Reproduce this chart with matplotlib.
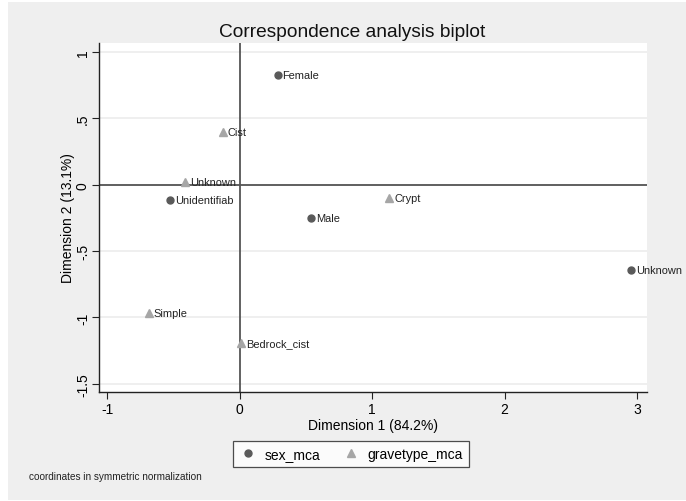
import matplotlib
matplotlib.use("Agg")
import matplotlib.pyplot as plt
from matplotlib.patches import Rectangle
from matplotlib.lines import Line2D

plt.rcParams['font.family'] = ['Liberation Sans', 'DejaVu Sans']

# Row categories (sex_mca) in symmetric normalization
sex_labels = ["Female", "Unidentifiab", "Male", "Unknown"]
sex_dim1 = [0.285, -0.525, 0.540, 2.955]
sex_dim2 = [0.830, -0.113, -0.248, -0.641]

# Column categories (gravetype_mca)
grave_labels = ["Cist", "Unknown", "Crypt", "Simple", "Bedrock_cist"]
grave_dim1 = [-0.130, -0.412, 1.130, -0.686, 0.013]
grave_dim2 = [0.400, 0.018, -0.100, -0.970, -1.190]

xticks = [-1, 0, 1, 2, 3]
xtick_labels = ["-1", "0", "1", "2", "3"]
yticks = [1, 0.5, 0, -0.5, -1, -1.5]
ytick_labels = ["1", ".5", "0", "-.5", "-1", "-1.5"]

W, H = 686, 502
fig = plt.figure(figsize=(W / 100, H / 100), dpi=100, facecolor="white")

# light gray graph region
bg = Rectangle((8 / W, 1 / H), 1 - 8 / W, (H - 4) / H,
               transform=fig.transFigure, facecolor="#efefef",
               edgecolor="none", zorder=-10)
fig.patches.append(bg)

left, right, top, bottom = 99, 646.7, 44, 393
ax = fig.add_axes([left / W, 1 - bottom / H, (right - left) / W, (bottom - top) / H])
ax.set_zorder(1)
ax.set_facecolor("white")
ax.set_xlim(-1.063, 3.073)
ax.set_ylim(-1.562, 1.068)

for s in ["top", "right"]:
    ax.spines[s].set_visible(False)
for s in ["left", "bottom"]:
    ax.spines[s].set_color("#222222")
    ax.spines[s].set_linewidth(1.0)

ax.set_xticks(xticks)
ax.set_xticklabels(xtick_labels, fontsize=10)
ax.set_yticks(yticks)
ax.set_yticklabels(ytick_labels, fontsize=10, rotation=90, va="center")
ax.tick_params(direction="out", length=5, width=0.8, color="#222222")
ax.tick_params(axis="x", pad=2)
ax.tick_params(axis="y", pad=1.5)

# horizontal grid
for yv in yticks:
    ax.axhline(yv, color="#ececec", lw=1.2, zorder=0.5)

# reference lines through the origin
ax.axhline(0, color="#555555", lw=1.3, zorder=1)
ax.axvline(0, color="#555555", lw=1.3, zorder=1)

circ_color = "#5a5a5a"
tri_color = "#a6a6a6"

ax.plot(sex_dim1, sex_dim2, linestyle="none", marker="o", ms=5.0,
        color=circ_color, mec=circ_color, zorder=3)
ax.plot(grave_dim1, grave_dim2, linestyle="none", marker="^", ms=6.0,
        color=tri_color, mec=tri_color, zorder=3)

for lab, x, y in zip(sex_labels, sex_dim1, sex_dim2):
    ax.annotate(lab, (x, y), xytext=(3.5, 0), textcoords="offset points",
                fontsize=7.9, va="center", ha="left", color="#222222",
                annotation_clip=False, zorder=4)
for lab, x, y in zip(grave_labels, grave_dim1, grave_dim2):
    ax.annotate(lab, (x, y), xytext=(3.5, 0), textcoords="offset points",
                fontsize=7.9, va="center", ha="left", color="#222222",
                annotation_clip=False, zorder=4)

ax.set_xlabel("Dimension 1 (84.2%)", fontsize=10, labelpad=2)
ax.set_ylabel("Dimension 2 (13.1%)", fontsize=10, labelpad=1)

fig.text(352 / W, 1 - 33 / H, "Correspondence analysis biplot",
         fontsize=13.8, ha="center", va="center", color="#111111")

handles = [
    Line2D([], [], linestyle="none", marker="o", ms=5.0, color=circ_color),
    Line2D([], [], linestyle="none", marker="^", ms=6.0, color=tri_color),
]
leg = fig.legend(handles, ["sex_mca", "gravetype_mca"], loc="center",
                 bbox_to_anchor=(351 / W, 1 - 455 / H), ncol=2, fontsize=10,
                 frameon=True, fancybox=False, edgecolor="#222222",
                 handletextpad=0.6, columnspacing=1.6, borderpad=0.45,
                 handlelength=1.2)
leg.get_frame().set_linewidth(0.9)
leg.get_frame().set_facecolor("white")

fig.text(29 / W, 1 - 477 / H, "coordinates in symmetric normalization",
         fontsize=7.2, ha="left", va="center", color="#222222")

fig.savefig("out.png", dpi=100, facecolor=fig.get_facecolor())
